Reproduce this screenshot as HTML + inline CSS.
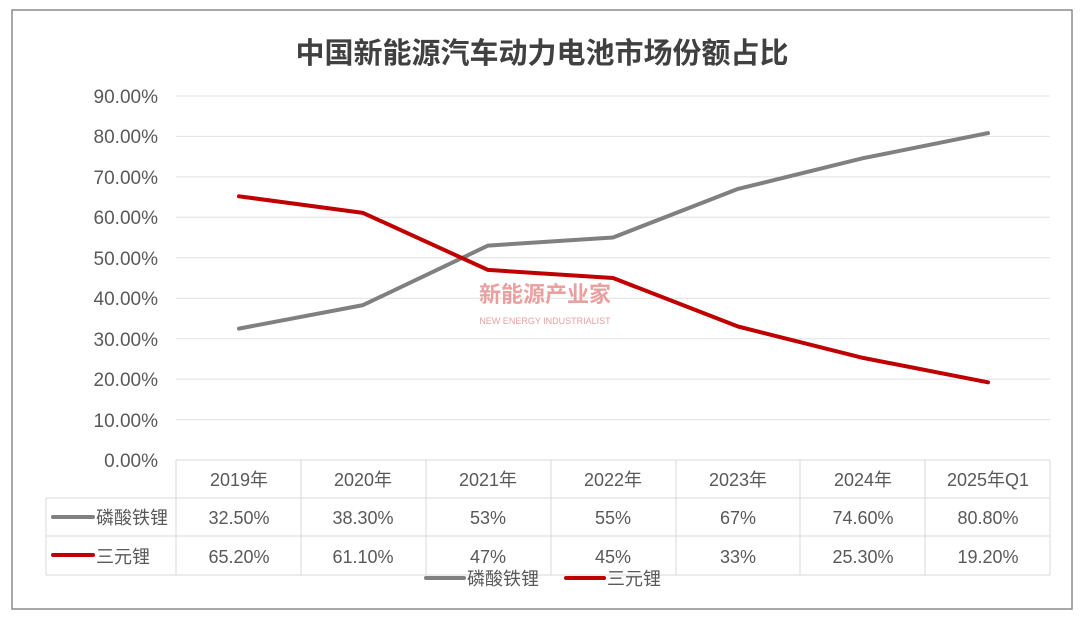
<!DOCTYPE html>
<html><head><meta charset="utf-8"><style>
body{margin:0;background:#fff;}
svg text{font-family:"Liberation Sans","Noto Sans CJK SC",sans-serif;fill:#595959;}
</style></head><body>
<svg width="1080" height="615" xmlns="http://www.w3.org/2000/svg">
<rect x="12" y="10" width="1060" height="599" fill="#fff" stroke="#8c8c8c" stroke-width="1.5"/>
<text x="542" y="63" text-anchor="middle" font-size="29" font-weight="bold" style="fill:#404040">中国新能源汽车动力电池市场份额占比</text>
<g stroke="#e0e0e0" stroke-width="1">
<line x1="176" x2="1050" y1="96" y2="96"/><line x1="176" x2="1050" y1="136.4" y2="136.4"/>
<line x1="176" x2="1050" y1="176.9" y2="176.9"/><line x1="176" x2="1050" y1="217.3" y2="217.3"/>
<line x1="176" x2="1050" y1="257.8" y2="257.8"/><line x1="176" x2="1050" y1="298.2" y2="298.2"/>
<line x1="176" x2="1050" y1="338.7" y2="338.7"/><line x1="176" x2="1050" y1="379.1" y2="379.1"/>
<line x1="176" x2="1050" y1="419.6" y2="419.6"/>
</g>
<g font-size="19" text-anchor="end">
<text x="158" y="103">90.00%</text><text x="158" y="143">80.00%</text><text x="158" y="184">70.00%</text>
<text x="158" y="224">60.00%</text><text x="158" y="265">50.00%</text><text x="158" y="305">40.00%</text>
<text x="158" y="346">30.00%</text><text x="158" y="386">20.00%</text><text x="158" y="427">10.00%</text>
<text x="158" y="467">0.00%</text>
</g>
<g stroke="#d9d9d9" stroke-width="1" fill="none">
<line x1="176" y1="460" x2="1050" y2="460"/>
<line x1="46" y1="498" x2="1050" y2="498"/><line x1="46" y1="536" x2="1050" y2="536"/><line x1="46" y1="575" x2="1050" y2="575"/>
<line x1="46" y1="498" x2="46" y2="575"/>
<line x1="176" y1="460" x2="176" y2="575"/><line x1="301" y1="460" x2="301" y2="575"/><line x1="426" y1="460" x2="426" y2="575"/>
<line x1="551" y1="460" x2="551" y2="575"/><line x1="676" y1="460" x2="676" y2="575"/><line x1="800" y1="460" x2="800" y2="575"/>
<line x1="925" y1="460" x2="925" y2="575"/><line x1="1050" y1="460" x2="1050" y2="575"/>
</g>
<g font-size="18" text-anchor="middle">
<text x="239" y="486">2019年</text><text x="363" y="486">2020年</text><text x="488" y="486">2021年</text><text x="613" y="486">2022年</text><text x="738" y="486">2023年</text><text x="863" y="486">2024年</text><text x="988" y="486">2025年Q1</text>
<text x="239" y="524">32.50%</text><text x="363" y="524">38.30%</text><text x="488" y="524">53%</text><text x="613" y="524">55%</text><text x="738" y="524">67%</text><text x="863" y="524">74.60%</text><text x="988" y="524">80.80%</text>
<text x="239" y="563">65.20%</text><text x="363" y="563">61.10%</text><text x="488" y="563">47%</text><text x="613" y="563">45%</text><text x="738" y="563">33%</text><text x="863" y="563">25.30%</text><text x="988" y="563">19.20%</text>
</g>
<line x1="53" y1="517" x2="93" y2="517" stroke="#808080" stroke-width="4" stroke-linecap="round"/>
<text x="96" y="524" font-size="18">磷酸铁锂</text>
<line x1="53" y1="555" x2="93" y2="555" stroke="#c00000" stroke-width="4" stroke-linecap="round"/>
<text x="96" y="563" font-size="18">三元锂</text>
<line x1="426" y1="578" x2="464" y2="578" stroke="#808080" stroke-width="4" stroke-linecap="round"/>
<text x="467" y="585" font-size="18">磷酸铁锂</text>
<line x1="566" y1="578" x2="604" y2="578" stroke="#c00000" stroke-width="4" stroke-linecap="round"/>
<text x="607" y="585" font-size="18">三元锂</text>
<text x="545" y="302" text-anchor="middle" font-size="22" font-weight="bold" style="fill:#e8a0a0">新能源产业家</text>
<text x="545" y="324" text-anchor="middle" font-size="9" style="fill:#e8a0a0">NEW ENERGY INDUSTRIALIST</text>
<polyline fill="none" stroke="#808080" stroke-width="4" stroke-linejoin="round" stroke-linecap="round"
points="239,328.6 363,305.1 488,245.6 613,237.5 738,188.9 863,158.2 988,133.1"/>
<polyline fill="none" stroke="#c00000" stroke-width="4" stroke-linejoin="round" stroke-linecap="round"
points="239,196.3 363,212.9 488,269.9 613,278.0 738,326.5 863,357.9 988,382.3"/>
</svg>
</body></html>
